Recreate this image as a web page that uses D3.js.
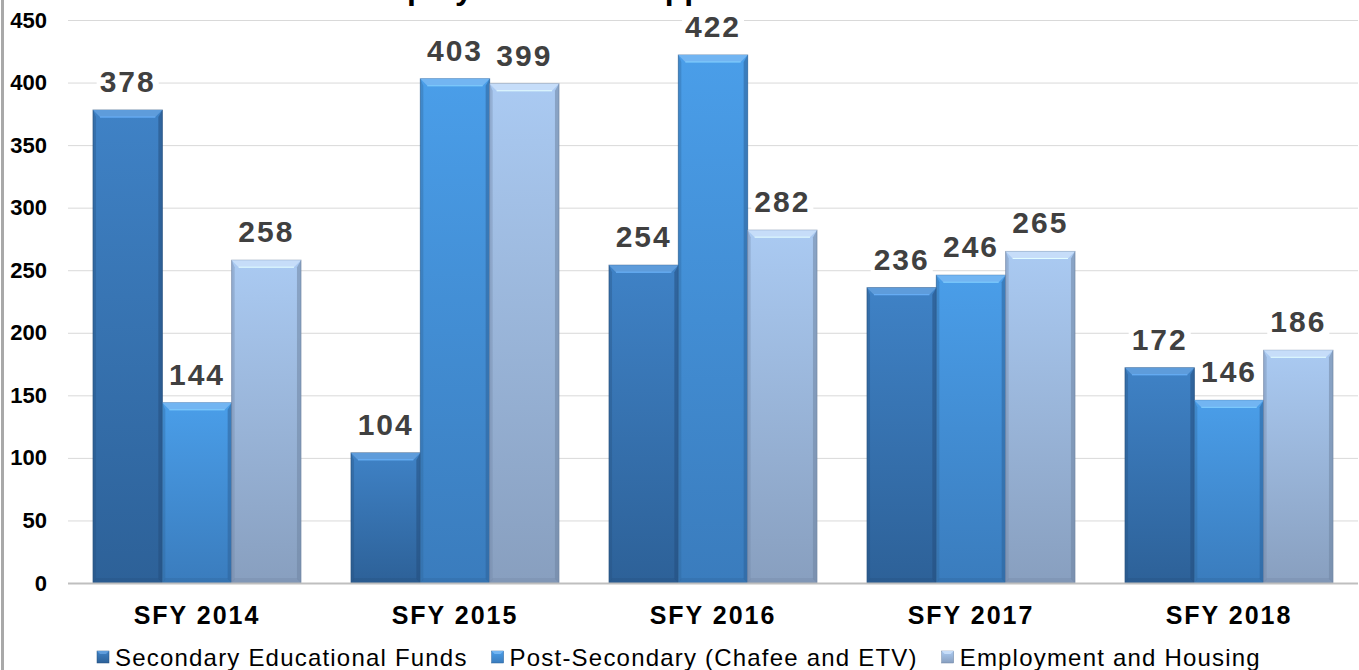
<!DOCTYPE html>
<html>
<head>
<meta charset="utf-8">
<script src="https://cdn.jsdelivr.net/npm/d3@7"></script>
<style>
  body { margin: 0; background: #fff; }
  svg { display: block; font-family: "Liberation Sans", Arial, sans-serif; }
</style>
</head>
<body>
<div id="chart"><svg></svg></div>
<script>
const width = 1359;
const height = 670;

// Data
const categories = ["SFY 2014", "SFY 2015", "SFY 2016", "SFY 2017", "SFY 2018"];
const seriesNames = ["Secondary Educational Funds", "Post-Secondary (Chafee and ETV)", "Employment and Housing"];
const secondaryFunds = [378, 104, 254, 236, 172];
const postSecondary = [144, 403, 422, 246, 146];
const employmentHousing = [258, 399, 282, 265, 186];
const yTicks = [0, 50, 100, 150, 200, 250, 300, 350, 400, 450];

const seriesValues = [secondaryFunds, postSecondary, employmentHousing];

// colours: [top, bottom, bevel, edge]
const palette = [
  ["#3f82c6", "#2d6198", "#5e9cdb", "#244f7e"],
  ["#4a9ee9", "#3a7cbd", "#72b5f2", "#2d6399"],
  ["#aacaf2", "#889fbf", "#c6ddf9", "#6f85a3"]
];

const margin = { top: 20, right: 1, bottom: 87, left: 68 };

const svg = d3.select("#chart svg")
  .attr("width", width)
  .attr("height", height);

const defs = svg.append("defs");
palette.forEach((c, i) => {
  const g = defs.append("linearGradient")
    .attr("id", "grad" + i)
    .attr("x1", 0).attr("y1", 0).attr("x2", 0).attr("y2", 1);
  g.append("stop").attr("offset", "0%").attr("stop-color", c[0]);
  g.append("stop").attr("offset", "100%").attr("stop-color", c[1]);
});

// left border
svg.append("rect")
  .attr("x", 1).attr("y", 0)
  .attr("width", 3).attr("height", height)
  .attr("fill", "#a9a9a9");

// title (mostly cut off at top in the source)
svg.append("text")
  .attr("x", 260).attr("y", -1)
  .attr("font-size", 32)
  .attr("font-weight", "bold")
  .attr("fill", "#000")
  .text("Youth Employment and Support Services");

const x0 = d3.scaleBand()
  .domain(categories)
  .range([margin.left, width - margin.right])
  .paddingInner(0.194)
  .paddingOuter(0.097);

const x1 = d3.scaleBand()
  .domain(d3.range(seriesNames.length))
  .range([0, x0.bandwidth()]);

const y = d3.scaleLinear()
  .domain([0, 450])
  .range([height - margin.bottom, margin.top]);

// gridlines
svg.append("g")
  .selectAll("line")
  .data(yTicks.slice(1))
  .join("line")
  .attr("x1", margin.left)
  .attr("x2", width - margin.right)
  .attr("y1", d => y(d) + 0.5)
  .attr("y2", d => y(d) + 0.5)
  .attr("stroke", "#d9d9d9")
  .attr("stroke-width", 1);

// y axis labels
const yAxis = svg.append("g")
  .attr("transform", `translate(${margin.left},0)`)
  .call(d3.axisLeft(y).tickValues(yTicks).tickSize(0).tickPadding(21));
yAxis.select(".domain").remove();
yAxis.selectAll("text")
  .attr("font-size", 22)
  .attr("font-weight", "bold")
  .attr("font-family", "'Liberation Sans', Arial, sans-serif")
  .attr("fill", "#000");

// bars
const groups = svg.append("g")
  .selectAll("g")
  .data(categories)
  .join("g")
  .attr("transform", d => `translate(${x0(d)},0)`);

const bars = groups.selectAll("g.bar")
  .data((d, i) => seriesValues.map((vals, s) => ({ s: s, v: vals[i] })))
  .join("g")
  .attr("class", "bar");

bars.each(function (d) {
  const g = d3.select(this);
  const bx = x1(d.s);
  const bw = x1.bandwidth();
  const top = y(d.v);
  const bottom = y(0);
  const c = palette[d.s];
  const bev = 7;

  g.append("rect")
    .attr("x", bx).attr("y", top)
    .attr("width", bw).attr("height", bottom - top)
    .attr("fill", `url(#grad${d.s})`)
    .attr("stroke", c[3])
    .attr("stroke-opacity", 0.7)
    .attr("stroke-width", 1);

  // top bevel
  g.append("path")
    .attr("d", `M${bx},${top} L${bx + bw},${top} L${bx + bw - bev},${top + bev} L${bx + bev},${top + bev} Z`)
    .attr("fill", c[2]);
  g.append("line")
    .attr("x1", bx + bev).attr("x2", bx + bw - bev)
    .attr("y1", top + bev).attr("y2", top + bev)
    .attr("stroke", d3.color(c[2]).brighter(0.4))
    .attr("stroke-width", 1);

  // side shading
  g.append("path")
    .attr("d", `M${bx + bw},${top} L${bx + bw},${bottom} L${bx + bw - 4},${bottom - 4} L${bx + bw - 4},${top + bev} Z`)
    .attr("fill", c[3])
    .attr("opacity", 0.55);
  g.append("path")
    .attr("d", `M${bx},${top} L${bx},${bottom} L${bx + 3},${bottom - 3} L${bx + 3},${top + bev} Z`)
    .attr("fill", c[3])
    .attr("opacity", 0.35);
  // bottom bevel
  g.append("path")
    .attr("d", `M${bx},${bottom} L${bx + bw},${bottom} L${bx + bw - 4},${bottom - 5} L${bx + 3},${bottom - 5} Z`)
    .attr("fill", c[3])
    .attr("opacity", 0.3);

  // data label with white box
  const lbl = g.append("text")
    .attr("x", bx + bw / 2)
    .attr("y", top - 18)
    .attr("text-anchor", "middle")
    .attr("font-size", 30)
    .attr("font-weight", "bold")
    .attr("letter-spacing", 2)
    .attr("fill", "#404040")
    .text(d.v);
  const bb = lbl.node().getBBox();
  g.insert("rect", "text")
    .attr("x", bb.x - 3).attr("y", bb.y + 3)
    .attr("width", bb.width + 6).attr("height", bb.height - 3)
    .attr("fill", "#fff");
});

// baseline axis
svg.append("line")
  .attr("x1", margin.left).attr("x2", width - margin.right)
  .attr("y1", y(0) + 0.5).attr("y2", y(0) + 0.5)
  .attr("stroke", "#bfbfbf")
  .attr("stroke-width", 2);

// x labels
const xAxis = svg.append("g")
  .attr("transform", `translate(0,${y(0)})`)
  .call(d3.axisBottom(x0).tickSize(0).tickPadding(23));
xAxis.select(".domain").remove();
xAxis.selectAll("text")
  .attr("font-size", 25)
  .attr("font-weight", "bold")
  .attr("font-family", "'Liberation Sans', Arial, sans-serif")
  .attr("letter-spacing", 2)
  .attr("fill", "#000");

// legend
const legend = svg.append("g")
  .attr("transform", `translate(97,${height - 4})`);
let lx = 0;
seriesNames.forEach((name, i) => {
  const item = legend.append("g").attr("transform", `translate(${lx},0)`);
  item.append("rect")
    .attr("x", 0).attr("y", -15)
    .attr("width", 12).attr("height", 12)
    .attr("fill", `url(#grad${i})`)
    .attr("stroke", palette[i][3])
    .attr("stroke-width", 0.5);
  item.append("path")
    .attr("d", "M0,-15 L12,-15 L9,-12 L3,-12 Z")
    .attr("fill", palette[i][2]);
  const t = item.append("text")
    .attr("x", 18).attr("y", 0)
    .attr("font-size", 24)
    .attr("letter-spacing", 1.2)
    .attr("fill", "#000")
    .text(name);
  lx += 18 + t.node().getComputedTextLength() + 24;
});
</script>
</body>
</html>
